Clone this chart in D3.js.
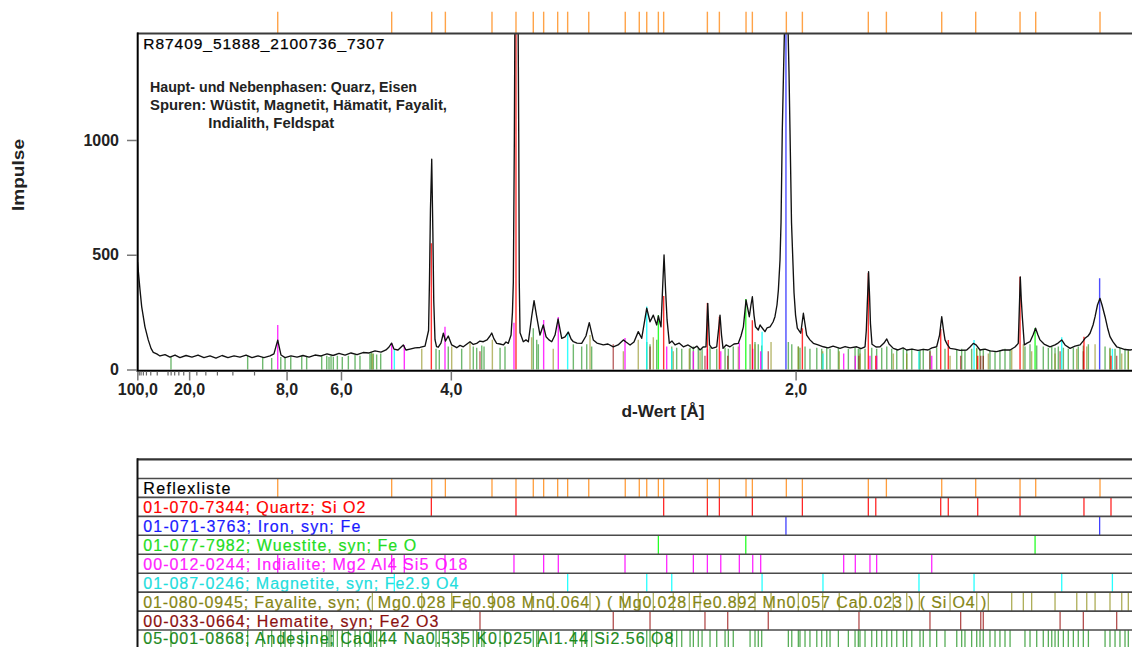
<!DOCTYPE html>
<html><head><meta charset="utf-8">
<script src="https://cdn.jsdelivr.net/npm/d3@7"></script>
<style>body{margin:0;background:#fff}svg{display:block}</style>
</head><body>
<svg id="c" width="1132" height="647"></svg>
<script>
// ---------- DATA (2θ in degrees, Co Kα1; intensities in counts) ----------
const LAMBDA = 1.78897;
const profileTwoTheta = [1.04,1.24,1.37,1.63,1.89,2.11,2.29,2.56,2.82,3.22,3.61,4.01,4.40,4.88,5.35,5.83,6.30,6.78,7.25,7.73,8.20,8.68,9.15,9.63,10.10,10.58,11.05,11.53,11.84,12.14,12.40,12.72,13.19,13.67,14.14,14.62,15.09,15.57,16.04,16.52,16.99,17.47,17.94,18.42,18.89,19.37,19.84,20.32,20.71,20.95,21.15,21.34,21.66,22.08,22.29,22.61,23.01,23.40,23.80,24.08,24.15,24.23,24.33,24.42,24.49,24.59,24.71,24.85,25.06,25.25,25.42,25.64,25.91,26.31,26.57,26.83,27.12,27.36,27.62,27.89,28.15,28.41,28.71,28.94,29.08,29.26,29.47,29.74,30.00,30.21,30.39,30.61,30.72,30.79,30.87,30.92,31.16,31.22,31.26,31.32,31.58,31.79,31.98,32.24,32.43,32.64,32.90,33.16,33.38,33.61,33.83,34.09,34.33,34.62,34.88,35.14,35.36,35.54,35.83,36.20,36.54,36.80,37.12,37.41,37.91,38.28,38.70,39.08,39.50,39.71,40.03,40.34,40.68,40.95,41.13,41.35,41.61,41.87,42.14,42.27,42.48,42.60,42.72,42.84,42.96,43.14,43.35,43.59,43.91,44.25,44.62,45.04,45.33,45.57,45.81,46.04,46.18,46.32,46.52,46.89,47.03,47.15,47.27,47.39,47.63,47.94,48.26,48.60,48.81,49.00,49.21,49.47,49.60,49.71,49.84,49.96,50.18,50.32,50.45,50.71,50.87,51.11,51.35,51.50,51.66,51.77,51.90,51.98,52.08,52.18,52.30,52.40,52.49,52.61,52.69,52.81,52.93,53.01,53.13,53.27,53.54,53.75,54.01,54.27,54.54,54.91,55.33,55.70,56.10,56.65,57.05,57.44,57.97,58.31,58.63,58.73,58.81,58.91,58.99,59.06,59.18,59.50,59.82,60.13,60.35,60.53,60.87,61.24,61.64,61.93,62.35,62.82,63.24,63.62,63.93,64.30,64.53,64.70,64.84,64.96,65.16,65.36,65.75,66.15,66.68,66.94,67.20,67.42,67.73,68.13,68.52,69.05,69.55,70.11,70.50,70.76,70.84,70.92,71.00,71.08,71.24,71.45,71.69,71.93,72.13,72.32,72.48,72.80,73.27,73.67,73.91,74.20,74.46,74.86,75.25,75.65,75.89,76.04,76.28,76.44,76.68,76.84,77.03,77.23,77.39,77.63,77.83,78.02,78.26,78.55,78.81,79.21,79.61,80.00];
const profileCounts = [468,346,274,186,129,92,75,68,59,65,54,63,52,61,54,63,52,59,50,61,52,59,54,63,52,59,52,59,68,128,63,52,59,54,61,54,63,59,68,61,70,63,72,65,74,72,81,76,85,98,115,89,85,107,85,89,94,96,102,170,380,700,916,600,300,130,100,97,115,158,124,146,107,95,105,99,111,121,109,114,124,121,129,146,159,133,114,111,107,120,114,150,250,380,1000,2200,2200,1000,380,160,121,129,121,230,300,230,150,194,143,129,121,150,220,136,142,163,133,121,115,114,146,204,129,115,107,111,99,107,129,120,107,120,165,136,194,267,208,237,194,233,186,346,499,346,216,114,124,107,115,99,107,92,102,85,98,99,288,107,92,99,172,237,150,92,107,99,111,114,146,186,303,230,281,317,237,186,172,194,184,165,181,186,207,230,281,346,477,640,1043,1300,1700,2000,1700,1300,1043,640,455,333,237,180,158,245,150,129,114,107,99,94,102,92,100,94,99,91,99,170,288,426,320,200,110,98,99,115,133,111,92,85,94,85,89,83,88,85,94,99,150,230,172,129,107,92,89,83,85,98,114,107,85,89,81,78,85,85,98,114,259,403,303,230,107,115,121,150,180,150,129,111,99,107,115,129,107,92,102,107,124,136,146,158,194,230,281,310,281,230,181,143,120,99,94,87,85,89];

// peak list (orange markers)
const peakList = [12.14,21.16,24.33,25.41,29.10,31.00,32.37,33.19,34.30,35.09,36.76,39.65,40.76,41.35,42.27,42.69,46.15,47.10,49.21,49.71,52.40,53.67,58.89,60.32,64.70,67.39,70.90,72.14,77.23];

// reference patterns: [2θ, stick height in counts]
const quartz = [[24.30,550],[31.00,2000],[42.69,320],[46.15,290],[47.10,230],[49.71,215],[53.67,180],[58.89,420],[59.48,60],[64.62,176],[65.22,128],[67.55,60],[70.90,404],[75.96,143],[78.10,60]];
const iron = [[52.37,2000],[77.20,398]];
const wuestite = [[42.27,237],[49.19,307],[72.09,181]];
const indialite = [[12.14,194],[21.16,115],[22.16,107],[25.38,186],[30.84,204],[33.19,216],[34.35,229],[39.63,137],[42.93,100],[45.04,80],[46.15,90],[47.21,80],[48.68,115],[49.74,90],[50.37,80],[56.94,70],[57.86,60],[59.02,60],[59.55,60],[63.91,60]];
const magnetite = [[21.37,85],[35.09,165],[41.35,274],[43.33,90],[50.48,165],[55.30,70],[62.90,80],[67.26,128],[74.20,141],[78.21,90]];
const fayalite = [[19.63,70],[23.54,90],[25.91,100],[27.36,120],[29.13,130],[32.24,140],[33.95,90],[36.86,150],[39.50,80],[40.68,130],[41.87,140],[43.45,80],[44.72,90],[45.57,80],[48.60,100],[49.92,110],[51.19,120],[53.35,100],[55.28,80],[56.59,80],[58.23,70],[60.87,70],[61.93,70],[62.93,80],[65.36,60],[67.47,90],[68.39,70],[70.24,90],[71.16,110],[71.82,80],[73.67,70],[75.39,90],[76.18,100],[76.84,110],[78.02,90],[78.95,70],[79.47,80]];
const hematite = [[28.15,80],[38.70,110],[41.61,100],[45.96,60],[47.76,60],[50.97,80],[58.15,60],[63.77,80],[66.20,60],[67.79,60],[67.99,60],[74.07,80],[75.91,80],[78.55,60]];
const andesine = [[3.69,55],[9.76,60],[10.95,55],[11.66,50],[12.38,55],[12.72,50],[13.17,55],[14.04,60],[14.43,55],[15.62,60],[16.02,60],[16.20,55],[16.36,60],[16.54,55],[16.86,60],[17.25,55],[17.73,60],[18.26,65],[18.65,60],[19.44,70],[19.55,75],[19.71,70],[19.97,65],[20.29,70],[24.67,90],[24.93,85],[25.64,100],[26.70,90],[27.62,100],[27.89,95],[28.29,105],[28.47,100],[29.74,95],[30.13,100],[32.37,180],[32.64,130],[32.77,110],[35.54,110],[36.20,100],[36.60,110],[36.99,100],[41.35,120],[41.61,110],[42.14,130],[43.33,100],[43.72,95],[44.12,90],[44.78,95],[45.04,100],[45.43,95],[45.73,90],[46.36,100],[46.89,90],[47.55,95],[47.81,90],[48.20,100],[49.53,110],[49.92,120],[50.18,110],[50.45,105],[52.56,120],[52.83,110],[53.35,100],[53.48,95],[53.88,100],[54.27,90],[54.81,95],[55.20,90],[55.60,95],[55.86,90],[56.52,95],[57.31,90],[57.84,95],[58.10,90],[58.23,95],[58.63,90],[59.16,95],[59.55,90],[59.95,95],[60.35,100],[60.74,90],[61.14,85],[61.66,90],[61.93,85],[62.33,90],[62.98,85],[63.24,90],[63.77,85],[64.30,95],[64.96,90],[65.89,85],[66.28,90],[66.54,85],[67.07,90],[67.47,95],[67.73,85],[67.99,90],[68.52,85],[68.92,80],[69.31,85],[69.71,90],[70.11,85],[71.29,100],[71.69,110],[72.22,105],[72.74,100],[73.14,95],[73.41,100],[73.67,95],[73.93,100],[74.33,95],[74.72,90],[75.12,95],[75.51,100],[75.91,105],[76.31,110],[77.63,100],[78.02,95],[78.42,90],[78.81,95],[79.21,90],[79.47,85]];

const rowLabels = ["Reflexliste","01-070-7344; Quartz; Si O2","01-071-3763; Iron, syn; Fe","01-077-7982; Wuestite, syn; Fe O","00-012-0244; Indialite; Mg2 Al4 Si5 O18","01-087-0246; Magnetite, syn; Fe2.9 O4","01-080-0945; Fayalite, syn; ( Mg0.028 Fe0.908 Mn0.064 ) ( Mg0.028 Fe0.892 Mn0.057 Ca0.023 ) ( Si O4 )","00-033-0664; Hematite, syn; Fe2 O3","05-001-0868; Andesine; Ca0.44 Na0.535 K0.025 Al1.44 Si2.56 O8"];
const yTicks = [0,500,1000];
const dTicks = [100,20,8,6,4,2];
const dTickLabels = ["100,0","20,0","8,0","6,0","4,0","2,0"];
const dMinorTicks = [90,80,70,60,50,40,30,28,26,24,22,18,16,14,12,10];
const titleText = "R87409_51888_2100736_7307";
const noteLines = ["Haupt- und Nebenphasen: Quarz, Eisen","Spuren: Wüstit, Magnetit, Hämatit, Fayalit,","Indialith, Feldspat"];

// ---------- STYLE / LAYOUT ----------
const rowColors = ["#000000","#ff0000","#1a1aff","#22dd22","#ff22ff","#22dddd","#858515","#8b1010","#1f8a1f"];
const stickColors = ["#ff8c1a","#ff0000","#2020ff","#00ff00","#ff00ff","#00ffff","#8a8a10","#900000","#108a10"];
const rowTextLen = [87,222,217,273,324,315,843,295,530];
const phaseData = [peakList.map(p=>[p,0]), quartz, iron, wuestite, indialite, magnetite, fayalite, hematite, andesine];

const SANS = "'Liberation Sans', Arial, sans-serif";
const svg = d3.select("#c");
svg.append("rect").attr("width",1132).attr("height",647).attr("fill","#fff");

const x = d3.scaleLinear().domain([1,80]).range([137,1135]);
const y = d3.scaleLinear().domain([0,1464]).range([369.5,33.5]);
const dTo2T = d => 2*Math.asin(LAMBDA/(2*d))*180/Math.PI;

svg.append("clipPath").attr("id","pc").append("rect").attr("x",137).attr("y",33.5).attr("width",1000).attr("height",337);

// sticks in main plot (andesine first ... quartz last)
const sticks = svg.append("g").attr("clip-path","url(#pc)");
for (let i = phaseData.length-1; i >= 1; i--) {
  sticks.append("g").selectAll("line").data(phaseData[i]).join("line")
    .attr("x1",d=>x(d[0])).attr("x2",d=>x(d[0]))
    .attr("y1",y(0)).attr("y2",d=>y(Math.min(d[1],1600)))
    .attr("stroke",stickColors[i]).attr("stroke-width",1.4)
    .attr("stroke-opacity", i>=6 ? 0.6 : 0.8);
}

// profile
const line = d3.line().x((d,i)=>x(profileTwoTheta[i])).y((d,i)=>y(Math.min(profileCounts[i],1600)));
svg.append("path").attr("clip-path","url(#pc)").datum(profileCounts)
  .attr("d",line).attr("fill","none").attr("stroke","#111").attr("stroke-width",1.35).attr("stroke-linejoin","round");

// peak markers above plot
svg.append("g").selectAll("line").data(peakList).join("line")
  .attr("x1",d=>x(d)).attr("x2",d=>x(d)).attr("y1",11.7).attr("y2",33)
  .attr("stroke","#ff8c1a").attr("stroke-width",1.4).attr("stroke-opacity",0.8);

// frame
svg.append("line").attr("x1",137).attr("x2",1132).attr("y1",33.5).attr("y2",33.5).attr("stroke","#3a3a3a").attr("stroke-width",2);
svg.append("line").attr("x1",137.7).attr("x2",137.7).attr("y1",32.5).attr("y2",371.8).attr("stroke","#000").attr("stroke-width",2);
svg.append("line").attr("x1",136.7).attr("x2",1132).attr("y1",370.8).attr("y2",370.8).attr("stroke","#000").attr("stroke-width",2);

// y axis
const yAx = svg.append("g").attr("transform","translate(137,0)")
  .call(d3.axisLeft(y).tickValues(yTicks).tickSize(10).tickPadding(8).tickFormat(d3.format("d")));
yAx.select(".domain").remove();
yAx.selectAll(".tick line").attr("stroke","#777").attr("stroke-width",1.5);
yAx.selectAll("text").attr("font-family",SANS).attr("font-weight","bold").attr("font-size",16).attr("fill","#222");

// x axis (d-values on a 2θ scale)
const xAx = svg.append("g").attr("transform","translate(0,371.5)")
  .call(d3.axisBottom(x).tickValues(dTicks.map(dTo2T)).tickSize(9).tickPadding(3).tickFormat((v,i)=>dTickLabels[i]));
xAx.select(".domain").remove();
xAx.selectAll(".tick line").attr("stroke","#777").attr("stroke-width",1.5);
xAx.selectAll("text").attr("font-family",SANS).attr("font-weight","bold").attr("font-size",16).attr("fill","#222");
const xMin = svg.append("g").attr("transform","translate(0,371.5)")
  .call(d3.axisBottom(x).tickValues(dMinorTicks.map(dTo2T)).tickSize(4).tickFormat(""));
xMin.select(".domain").remove();
xMin.selectAll(".tick line").attr("stroke","#666").attr("stroke-width",1.2);

// axis titles
svg.append("text").attr("x",663).attr("y",417).attr("text-anchor","middle")
  .attr("font-family",SANS).attr("font-weight","bold").attr("font-size",16).attr("fill","#222")
  .attr("textLength",83).attr("lengthAdjust","spacingAndGlyphs").text("d-Wert [Å]");
svg.append("text").attr("transform","translate(24,175) rotate(-90)").attr("text-anchor","middle")
  .attr("font-family",SANS).attr("font-weight","bold").attr("font-size",16).attr("fill","#222")
  .attr("textLength",72).attr("lengthAdjust","spacingAndGlyphs").text("Impulse");

// title + notes
svg.append("text").attr("x",143.3).attr("y",49.3).attr("font-family",SANS).attr("font-size",15.5).attr("fill","#000")
  .attr("stroke","#000").attr("stroke-width",0.25)
  .attr("textLength",241).attr("lengthAdjust","spacing").text(titleText);
const noteX = [150,150,208.3], noteY = [91.7,109.5,127.8], noteLen = [267,297,126];
noteLines.forEach((t,i)=>{
  svg.append("text").attr("x",noteX[i]).attr("y",noteY[i]).attr("font-family",SANS).attr("font-weight","bold")
    .attr("font-size",14).attr("fill","#222").attr("textLength",noteLen[i]).attr("lengthAdjust","spacingAndGlyphs").text(t);
});

// ---------- bottom panel: Reflexliste ----------
const rowTop0 = 478.45, rowH = 18.95;
const panel = svg.append("g");
rowLabels.forEach((lab,i)=>{
  const top = rowTop0 + i*rowH;
  panel.append("text").attr("x",143.3).attr("y",Math.min(top+rowH-3.4, 643.5))
    .attr("font-family",SANS).attr("font-size",16).attr("fill",rowColors[i])
    .attr("stroke",rowColors[i]).attr("stroke-width",0.2)
    .attr("textLength",rowTextLen[i]).attr("lengthAdjust","spacing").text(lab);
  panel.append("g").selectAll("line").data(phaseData[i]).join("line")
    .attr("x1",d=>x(d[0])).attr("x2",d=>x(d[0])).attr("y1",top).attr("y2",top+rowH)
    .attr("stroke",stickColors[i]).attr("stroke-width",1.3).attr("stroke-opacity", i>=6 ? 0.7 : 0.85);
});
// row separators
const seps = d3.range(0,10).map(i=>rowTop0 + i*rowH);
panel.selectAll("line.sep").data(seps).join("line").attr("class","sep")
  .attr("x1",137).attr("x2",1132).attr("y1",d=>d).attr("y2",d=>d)
  .attr("stroke","#4a4a4a").attr("stroke-width",1.6);
panel.append("line").attr("x1",137).attr("x2",1132).attr("y1",459.3).attr("y2",459.3).attr("stroke","#333").attr("stroke-width",2.2);
panel.append("line").attr("x1",137.5).attr("x2",137.5).attr("y1",458.3).attr("y2",647).attr("stroke","#111").attr("stroke-width",2);
</script>
</body></html>
